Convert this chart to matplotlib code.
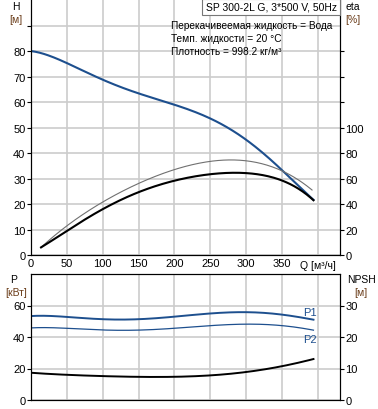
import matplotlib.pyplot as plt
import numpy as np

plt.rcParams['font.family'] = ['Liberation Sans', 'DejaVu Sans']

# Data
q_h = [0, 25, 50, 100, 150, 200, 250, 275, 300, 325, 350, 375, 394]
head = [80, 78.3, 75, 69, 63.5, 58.5, 53.5, 50.5, 45, 39.5, 33, 27, 21.5]

q_eta = [14, 50, 100, 150, 200, 220, 250, 280, 300, 350, 392]
eta_pump = [6, 22.7, 41.6, 56.5, 66, 70.6, 73.7, 74.7, 73.7, 66, 51]
q_eta2 = [14, 50, 100, 150, 200, 220, 250, 280, 300, 350, 394]
eta_total = [6, 18.8, 36, 49.4, 58, 61, 63, 64.8, 64.3, 58.3, 43]

q_p = [0, 50, 100, 150, 200, 220, 250, 300, 350, 394]
p1 = [53.3, 52.7, 51.4, 51.2, 52.8, 54.0, 54.8, 55.8, 54.2, 51]
p2 = [45.8, 45.4, 44.6, 44.4, 45.4, 46.3, 47, 48.5, 47, 44.4]
npsh = [8.65, 8.0, 7.6, 7.3, 7.4, 7.5, 7.8, 8.85, 10.75, 13]

info_lines = ['Перекачивеемая жидкость = Вода',
              'Темп. жидкости = 20 °C',
              'Плотность = 998.2 кг/м³']
title = 'SP 300-2L G, 3*500 V, 50Hz'

blue = '#1d4f8e'
grid_c = '#cccccc'
unit_c = '#6b3d1a'


def smooth(x, y, n=200):
    x = np.asarray(x, float)
    y = np.asarray(y, float)
    xs = np.linspace(x[0], x[-1], n)
    c = np.polyfit(x, y, min(5, len(x) - 1))
    return xs, np.polyval(c, xs)


fig = plt.figure(figsize=(3.78, 4.10), dpi=100)
ax = fig.add_axes([31 / 378, 1 - 256 / 410, 309 / 378, 256 / 410])
axb = fig.add_axes([31 / 378, 1 - 401 / 410, 309 / 378, 126 / 410])
ax2 = ax.twinx()
axb2 = axb.twinx()

for a in (ax, axb):
    a.set_xlim(0, 431)
    a.set_xticks(np.arange(0, 401, 50))
    a.grid(True, color=grid_c, lw=1.2)
    a.set_axisbelow(True)
    a.tick_params(labelsize=8, length=3, pad=1)

ax.set_ylim(0, 100.4)
ax.set_yticks(np.arange(0, 91, 10))
ax.set_yticklabels([str(v) for v in range(0, 81, 10)] + [''])
ax.set_xticklabels([str(v) for v in range(0, 351, 50)] + [''])
ax.tick_params(axis='x', length=0, pad=2)
ax.spines['top'].set_visible(False)
ax2.spines['top'].set_visible(False)

ax2.set_ylim(0, 200.8)
ax2.set_yticks(np.arange(0, 161, 20))
ax2.set_yticklabels([str(v) for v in range(0, 101, 20)] + [''] * 3)
ax2.tick_params(labelsize=8, length=3, pad=1)

axb.set_ylim(0, 80)
axb.set_yticks([0, 20, 40, 60])
axb.set_xticklabels([])
axb.tick_params(axis='x', length=0)
axb2.set_ylim(0, 40)
axb2.set_yticks([0, 10, 20, 30])
axb2.tick_params(labelsize=8, length=3, pad=1)

# Curves
xs, ys = smooth(q_h, head)
ax.plot(xs, ys, color=blue, lw=1.5)
xs, ys = smooth(q_eta, eta_pump)
ax2.plot(xs, ys, color='#707070', lw=0.8)
xs, ys = smooth(q_eta2, eta_total)
ax2.plot(xs, ys, color='black', lw=1.5)

xs, ys = smooth(q_p, p1)
axb.plot(xs, ys, color=blue, lw=1.4)
xs, ys = smooth(q_p, p2)
axb.plot(xs, ys, color=blue, lw=0.9)
xs, ys = smooth(q_p, npsh)
axb2.plot(xs, ys, color='black', lw=1.4)

axb.text(q_p[-1] - 5, p1[-1] + 1.5, 'P1', color=blue, fontsize=8, ha='center', va='bottom')
axb.text(q_p[-1] - 5, p2[-1] - 2.5, 'P2', color=blue, fontsize=8, ha='center', va='top')

# Text labels
fs = 7.5
fig.text(16 / 378, 1 - 7 / 410, 'H', fontsize=fs, ha='center', va='center')
fig.text(16 / 378, 1 - 20 / 410, '[м]', fontsize=fs, ha='center', va='center', color=unit_c)
fig.text(353 / 378, 1 - 7 / 410, 'eta', fontsize=fs, ha='center', va='center')
fig.text(353 / 378, 1 - 20 / 410, '[%]', fontsize=fs, ha='center', va='center', color=unit_c)
fig.text(14 / 378, 1 - 280 / 410, 'P', fontsize=fs, ha='center', va='center')
fig.text(16 / 378, 1 - 293 / 410, '[кВт]', fontsize=fs, ha='center', va='center', color=unit_c)
fig.text(361 / 378, 1 - 280 / 410, 'NPSH', fontsize=fs, ha='center', va='center')
fig.text(361 / 378, 1 - 293 / 410, '[м]', fontsize=fs, ha='center', va='center', color=unit_c)
fig.text(318 / 378, 1 - 266 / 410, 'Q [м³/ч]', fontsize=fs, ha='center', va='center')

for i, line in enumerate(info_lines):
    fig.text(171 / 378, 1 - (26 + 13 * i) / 410, line, fontsize=7.3, ha='left', va='center')

fig.text(271 / 378, 1 - 8 / 410, title, fontsize=7.5, ha='center', va='center',
         bbox=dict(boxstyle='square,pad=0.3', fc='white', ec='#777777', lw=0.8))

fig.savefig('out.png', dpi=100)
